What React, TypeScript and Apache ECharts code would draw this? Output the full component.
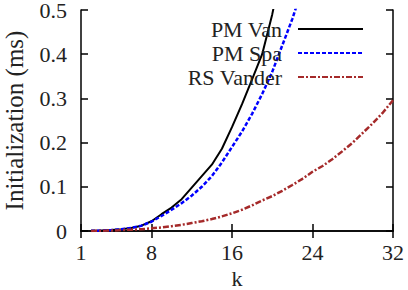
import React, { useEffect, useRef } from "react";
import * as echarts from "echarts";

const K = [2, 3, 4, 5, 6, 7, 8, 9, 10, 11, 12, 13, 14, 15, 16, 17, 18, 19, 20, 21, 22, 23, 24, 25, 26, 27, 28, 29, 30, 31, 32];
const PM_VAN = [0.0005, 0.001, 0.002, 0.004, 0.007, 0.012, 0.022, 0.038, 0.053, 0.072, 0.098, 0.124, 0.15, 0.186, 0.235, 0.287, 0.343, 0.4, 0.49, 0.6];
const PM_SPA = [0.0004, 0.001, 0.002, 0.004, 0.007, 0.012, 0.021, 0.034, 0.048, 0.063, 0.08, 0.1, 0.124, 0.155, 0.19, 0.225, 0.265, 0.31, 0.36, 0.42, 0.48, 0.55];
const RS_VANDER = [0.0002, 0.0005, 0.001, 0.002, 0.003, 0.004, 0.006, 0.008, 0.011, 0.014, 0.018, 0.022, 0.027, 0.033, 0.04, 0.048, 0.058, 0.069, 0.079, 0.091, 0.104, 0.118, 0.134, 0.147, 0.163, 0.181, 0.2, 0.222, 0.244, 0.268, 0.296];
const X_TICKS = [1, 8, 16, 24, 32];
const SERIES_NAMES = ["PM Van", "PM Spa", "RS Vander"];

const FONT = "Liberation Serif";
const TEXT_COLOR = "#222";

function pairs(vals: number[]) {
  return vals.map((v, i) => [K[i], v]);
}

export default function App() {
  const ref = useRef<HTMLDivElement>(null);
  useEffect(() => {
    if (!ref.current) return;
    const chart = echarts.init(ref.current, undefined, { renderer: "svg" });
    const tickStyle = { show: true, inside: true, length: 7, lineStyle: { color: "#000", width: 1.5 } };
    const axisLine = { show: true, lineStyle: { color: "#000", width: 1.5 } };
    const legendTops = [13, 37, 61];
    const legends = SERIES_NAMES.map((name, i) => ({
      orient: "vertical",
      align: "right",
      right: 39,
      top: legendTops[i],
      itemWidth: 65,
      itemHeight: 14,
      data: [name],
      itemStyle: { opacity: 0 },
      selectedMode: false,
      textStyle: { fontFamily: FONT, fontSize: 22, color: TEXT_COLOR, lineHeight: 22, padding: [0, 11, 0, 0] },
    }));
    chart.setOption({
      animation: false,
      backgroundColor: "#fff",
      textStyle: { fontFamily: FONT },
      grid: { left: 81, top: 10, width: 312, height: 221, containLabel: false, outerBoundsMode: "none" },
      legend: legends,
      xAxis: [
        {
          type: "value",
          min: 1,
          max: 32,
          name: "k",
          nameLocation: "middle",
          nameGap: 37,
          nameTextStyle: { fontFamily: FONT, fontSize: 22, color: TEXT_COLOR, lineHeight: 20 },
          axisLine,
          axisTick: { ...tickStyle, customValues: X_TICKS },
          axisLabel: { customValues: X_TICKS, fontFamily: FONT, fontSize: 22, color: TEXT_COLOR, margin: 10 },
          splitLine: { show: false },
        },
        {
          type: "value",
          min: 1,
          max: 32,
          position: "top",
          axisLine,
          axisTick: { ...tickStyle, customValues: X_TICKS },
          axisLabel: { show: false, customValues: X_TICKS },
          splitLine: { show: false },
        },
      ],
      yAxis: [
        {
          type: "value",
          min: 0,
          max: 0.5,
          interval: 0.1,
          name: "Initialization (ms)",
          nameLocation: "middle",
          nameGap: 55,
          nameRotate: 90,
          nameTextStyle: { fontFamily: FONT, fontSize: 25, color: TEXT_COLOR, lineHeight: 24 },
          axisLine,
          axisTick: tickStyle,
          axisLabel: { fontFamily: FONT, fontSize: 22, color: TEXT_COLOR, margin: 14, lineHeight: 18 },
          splitLine: { show: false },
        },
        {
          type: "value",
          min: 0,
          max: 0.5,
          interval: 0.1,
          position: "right",
          axisLine,
          axisTick: tickStyle,
          axisLabel: { show: false },
          splitLine: { show: false },
        },
      ],
      series: [
        {
          name: SERIES_NAMES[0],
          type: "line",
          data: pairs(PM_VAN),
          symbol: "none",
          clip: true,
          lineStyle: { color: "#000", width: 2 },
          itemStyle: { color: "#000" },
        },
        {
          name: SERIES_NAMES[1],
          type: "line",
          data: pairs(PM_SPA),
          symbol: "none",
          clip: true,
          lineStyle: { color: "#0000ff", width: 2.5, type: [4, 2] },
          itemStyle: { color: "#0000ff" },
        },
        {
          name: SERIES_NAMES[2],
          type: "line",
          data: pairs(RS_VANDER),
          symbol: "none",
          clip: true,
          lineStyle: { color: "#a52a2a", width: 2.5, type: [6, 2, 2, 2] },
          itemStyle: { color: "#a52a2a" },
        },
      ],
    });
    return () => chart.dispose();
  }, []);
  return (
    <div
      ref={ref}
      style={{ position: "absolute", left: 0, top: 0, width: 408, height: 290 }}
    />
  );
}
